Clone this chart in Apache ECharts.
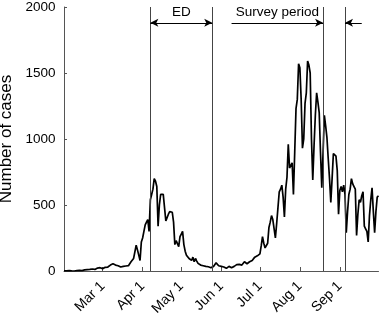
<!DOCTYPE html>
<html>
<head>
<meta charset="utf-8">
<script src="https://cdn.jsdelivr.net/npm/echarts@6/dist/echarts.min.js"></script>
<style>
  html, body { margin: 0; padding: 0; background: #fff; }
  #chart { width: 383px; height: 319px; }
</style>
</head>
<body>
<div id="chart"></div>
<script>
// ---- data ----
const startDate = '2020-01-31';
const monthNames = ['Jan','Feb','Mar','Apr','May','Jun','Jul','Aug','Sep','Oct','Nov','Dec'];
const cases = [
  1,
  // Feb
  2,1,0,3,2,1,4,0,2,3,1,5,2,3,6,
  8,5,10,7,12,9,15,20,12,18,22,15,25,20,
  // Mar
  18,22,28,40,30,35,45,40,55,60,45,55,40,35,30,40,35,28,38,45,40,55,70,85,95,110,195,160,120,80,220,
  // Apr
  250,300,350,370,390,300,540,580,620,700,680,640,340,500,580,590,580,585,380,370,430,450,455,445,370,200,230,240,185,260,
  // May
  280,300,200,150,120,105,95,90,80,105,70,95,75,58,60,45,50,40,33,35,40,32,30,25,28,35,45,62,55,40,26,
  // Jun
  35,40,30,25,20,28,35,30,25,28,35,40,48,62,50,45,45,55,70,60,55,58,70,85,80,95,105,110,115,125,
  // Jul
  130,190,260,210,175,190,210,330,370,420,390,380,250,360,480,600,620,650,560,410,620,710,960,780,800,820,580,900,1230,1300,1570,
  // Aug
  1540,1300,930,1000,1270,1350,1590,1560,1500,1000,690,950,1180,1350,1280,1200,900,630,900,1180,1100,1010,850,700,520,700,890,880,870,760,430,
  // Sep
  610,640,600,650,580,290,450,580,620,700,660,640,620,270,430,540,520,570,600,340,320,300,220,420,540,630,450,290,450,560,
  // Oct 1
  570
];
const tickLabels = ['Mar 1','Apr 1','May 1','Jun 1','Jul 1','Aug 1','Sep 1'];
const yMin = 0, yMax = 2000, yStep = 500;
const yName = 'Number of cases';
const edPeriod = ['Apr 7', 'May 25'];
const edLabel = 'ED';
const surveyBounds = ['Aug 19', 'Sep 5'];
const surveyLabelStart = 'Jun 9';
const surveyArrowTail = 'Sep 18';
const surveyLabel = 'Survey period';
const arrowLevel = 1880;

// ---- build categories ----
const categories = [];
{
  const d0 = new Date(startDate + 'T00:00:00Z');
  for (let i = 0; i < cases.length; i++) {
    const d = new Date(d0.getTime() + i * 86400000);
    categories.push(monthNames[d.getUTCMonth()] + ' ' + d.getUTCDate());
  }
}

const FONT = '"Liberation Sans", Arial, Helvetica, sans-serif';
const axisColor = '#555';
const vlineStyle = { color: '#444', width: 1, type: 'solid' };
const arrowStyle = { color: '#000', width: 1, type: 'solid' };

const chart = echarts.init(document.getElementById('chart'), null, { renderer: 'canvas' });
chart.setOption({
  animation: false,
  grid: { left: 64, right: 4.5, top: 7, bottom: 48, containLabel: false, outerBoundsMode: 'none' },
  xAxis: {
    type: 'category',
    data: categories,
    boundaryGap: false,
    axisLine: { lineStyle: { color: axisColor, width: 1 } },
    axisTick: {
      inside: true, length: 4,
      interval: (idx, val) => tickLabels.includes(val),
      lineStyle: { color: axisColor }
    },
    axisLabel: {
      interval: (idx, val) => tickLabels.includes(val),
      rotate: 45, margin: 13,
      color: '#000', fontSize: 14, fontFamily: FONT
    },
    splitLine: { show: false }
  },
  yAxis: {
    type: 'value',
    min: yMin, max: yMax, interval: yStep,
    name: yName, nameLocation: 'middle', nameGap: 46,
    nameTextStyle: { color: '#000', fontSize: 17, fontFamily: FONT },
    axisLine: { show: true, lineStyle: { color: axisColor, width: 1 } },
    axisTick: { show: true, inside: true, length: 3, lineStyle: { color: axisColor } },
    axisLabel: { color: '#000', fontSize: 13.5, fontFamily: FONT, margin: 8.5,
                 formatter: v => String(v) },
    splitLine: { show: false }
  },
  series: [{
    type: 'line',
    data: cases,
    showSymbol: false,
    symbol: 'none',
    silent: true,
    lineStyle: { color: '#000', width: 1.7 },
    markLine: {
      silent: true,
      animation: false,
      precision: 0,
      symbol: ['none', 'none'],
      data: [
        { xAxis: edPeriod[0], lineStyle: vlineStyle, label: { show: false } },
        { xAxis: edPeriod[1], lineStyle: vlineStyle, label: { show: false } },
        { xAxis: surveyBounds[0], lineStyle: vlineStyle, label: { show: false } },
        { xAxis: surveyBounds[1], lineStyle: vlineStyle, label: { show: false } },
        [
          { coord: [edPeriod[0], arrowLevel], symbol: 'arrow', symbolSize: [6, 8] },
          { coord: [edPeriod[1], arrowLevel], symbol: 'arrow', symbolSize: [6, 8],
            lineStyle: arrowStyle,
            label: { show: true, formatter: edLabel, position: 'insideMiddleTop', distance: 4,
                     color: '#000', fontSize: 13.5, fontFamily: FONT } }
        ],
        [
          { coord: [surveyLabelStart, arrowLevel], symbol: 'none' },
          { coord: [surveyBounds[0], arrowLevel], symbol: 'arrow', symbolSize: [6, 8],
            lineStyle: arrowStyle,
            label: { show: true, formatter: surveyLabel, position: 'insideMiddleTop', distance: 4,
                     color: '#000', fontSize: 13.5, fontFamily: FONT } }
        ],
        [
          { coord: [surveyArrowTail, arrowLevel], symbol: 'none' },
          { coord: [surveyBounds[1], arrowLevel], symbol: 'arrow', symbolSize: [6, 8],
            lineStyle: arrowStyle, label: { show: false } }
        ]
      ]
    }
  }]
});
</script>
</body>
</html>
